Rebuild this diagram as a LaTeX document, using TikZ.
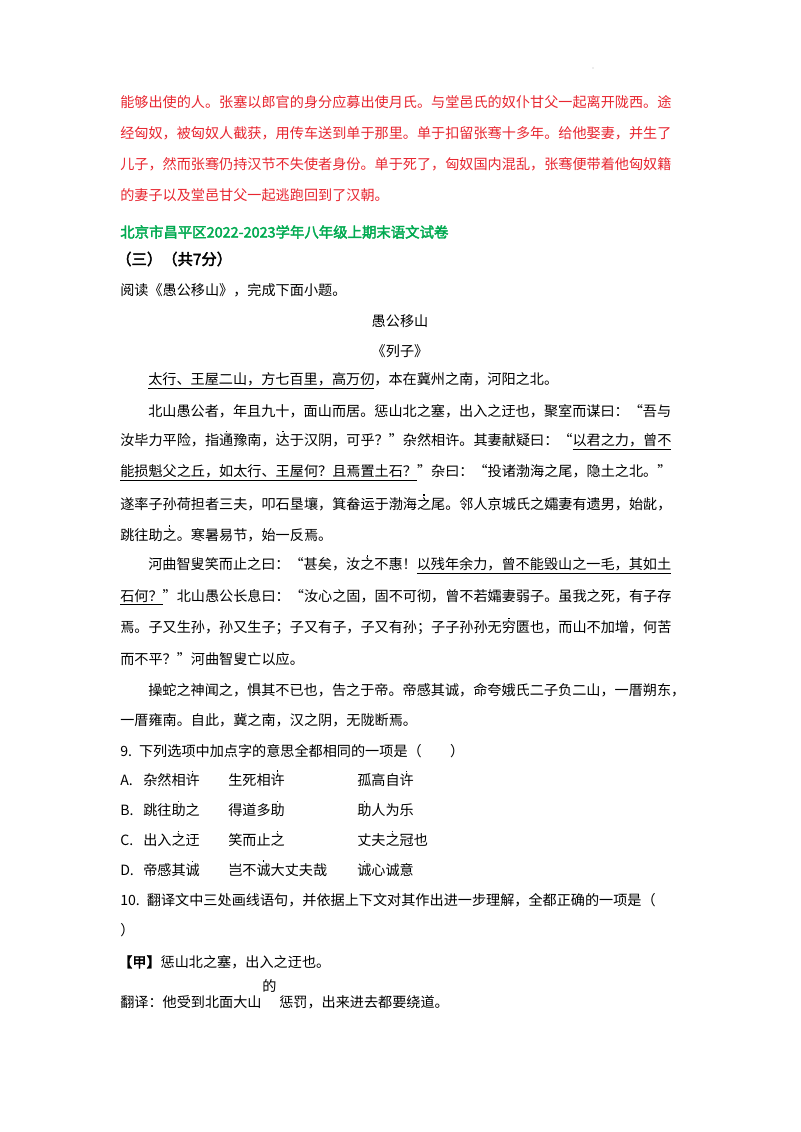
\documentclass[tikz,border=0pt]{standalone}
\usepackage{fontspec}
\setmainfont{Noto Sans CJK SC}[AutoFakeBold=2.5]
\definecolor{redtxt}{RGB}{232,38,48}
\definecolor{greentxt}{RGB}{0,170,80}
\newcommand\dd[1]{\ooalign{#1\cr\hidewidth\raisebox{0.95em}{\rule{1.1pt}{1.1pt}}\hidewidth\cr}}
\tikzset{ln/.style={anchor=west,inner sep=0pt,font=\fontsize{10.6pt}{12pt}\selectfont},
 red/.style={ln,text=redtxt}}
\begin{document}
\begin{tikzpicture}[x=0.75pt,y=-0.75pt]
\useasboundingbox[fill=white] (0,0) rectangle (800,1132);
\fill[gray!60] (593,68) circle (0.6);
\node[red] (r1) at (120,102) {能够出使的人。张塞以郎官的身分应募出使月氏。与堂邑氏的奴仆甘父一起离开陇西。途};
\node[red] (r2) at (120,133) {经匈奴，被匈奴人截获，用传车送到单于那里。单于扣留张骞十多年。给他娶妻，并生了};
\node[red] (r3) at (120,164) {儿子，然而张骞仍持汉节不失使者身份。单于死了，匈奴国内混乱，张骞便带着他匈奴籍};
\node[red] (r4) at (120,195) {的妻子以及堂邑甘父一起逃跑回到了汉朝。};
\node[ln,text=greentxt,font=\bfseries\fontsize{10.8pt}{12pt}\selectfont] (g) at (120,232) {北京市昌平区2022-2023学年八年级上期末语文试卷};
\node[ln,font=\bfseries\fontsize{11.5pt}{12pt}\selectfont] (s) at (116,259) {（三）（共7分）};
\node[ln] (yd) at (120,290) {阅读《愚公移山》，完成下面小题。};
\node[ln,anchor=center] (t) at (400,321) {愚公移山};
\node[ln,anchor=center] (lz) at (400,351) {《列子》};
\node[ln] (p1) at (148,381) {\underline{太行、王屋二山，方七百里，高万仞}，本在冀州之南，河阳之北。};
\node[ln] (p2) at (148,411) {北山愚公者，年且九十，面山而居。惩山北之塞，出入之迂也，聚室而谋曰：“吾与};
\node[ln] (p3) at (120,442) {汝毕力平险，指\dd{通}豫南，\dd{达}于汉阴，可乎？”杂然相许。其妻献疑曰：“\underline{以君之力，曾不}};
\node[ln] (p4) at (120,473) {\underline{能损魁父之丘，如太行、王屋何？且焉置土石？}”杂曰：“投诸渤海之尾，隐土之北。”};
\node[ln] (p5) at (120,504) {遂率子孙荷担者三夫，叩石垦壤，箕畚运于渤海\dd{之}尾。邻人京城氏之孀妻有遗男，始龀，};
\node[ln] (p6) at (120,535) {跳往助\dd{之}。寒暑易节，始一反焉。};
\node[ln] (p7) at (148,566) {河曲智叟笑而止之曰：“甚矣，汝\dd{之}不惠！\underline{以残年余力，曾不能毁山之一毛，其如土}};
\node[ln] (p8) at (120,597) {\underline{石何？}”北山愚公长息曰：“汝心之固，固不可彻，曾不若孀妻弱子。虽我之死，有子存};
\node[ln] (p9) at (120,628) {焉。子又生孙，孙又生子；子又有子，子又有孙；子子孙孙无\dd{穷}匮也，而山不加增，何苦};
\node[ln] (p10) at (120,659) {而不平？”河曲智叟亡以应。};
\node[ln] (p11) at (148,690) {操蛇之神闻之，惧其不已也，告之于帝。帝感其诚，命夸娥氏二子负二山，一厝朔东，};
\node[ln] (p12) at (120,720) {一厝雍南。自此，冀之南，汉之阴，无陇断焉。};
\node[ln] (q9) at (120,751) {9.\enspace 下列选项中加点字的意思全都相同的一项是（\qquad ）};
\node[ln] (a1) at (120,780) {A.}; \node[ln] (a2) at (143,780) {杂然相\dd{许}}; \node[ln] (a3) at (228,780) {生死相\dd{许}}; \node[ln] (a4) at (357,780) {孤高自\dd{许}};
\node[ln] (b1) at (120,810) {B.}; \node[ln] (b2) at (143,810) {跳往\dd{助}之}; \node[ln] (b3) at (228,810) {得道多\dd{助}}; \node[ln] (b4) at (357,810) {\dd{助}人为乐};
\node[ln] (c1) at (120,840) {C.}; \node[ln] (c2) at (143,840) {出入\dd{之}迂}; \node[ln] (c3) at (228,840) {笑而止\dd{之}}; \node[ln] (c4) at (357,840) {丈夫\dd{之}冠也};
\node[ln] (d1) at (120,870) {D.}; \node[ln] (d2) at (143,870) {帝感其\dd{诚}}; \node[ln] (d3) at (228,870) {岂不\dd{诚}大丈夫哉}; \node[ln] (d4) at (357,870) {\dd{诚}心诚意};
\node[ln] (q10) at (120,900) {10.\enspace 翻译文中三处画线语句，并依据上下文对其作出进一步理解，全都正确的一项是（};
\node[ln] (q10b) at (120,930) {）};
\node[ln] (jia) at (118,962) {\textbf{【甲】}惩山北之塞，出入之迂也。};
\node[ln] (de) at (262,986) {的};
\node[ln] (fy1) at (120,1002) {翻译：他受到北面大山};
\node[ln] (fy2) at (279,1002) {惩罚，出来进去都要绕道。};
\end{tikzpicture}
\end{document}
